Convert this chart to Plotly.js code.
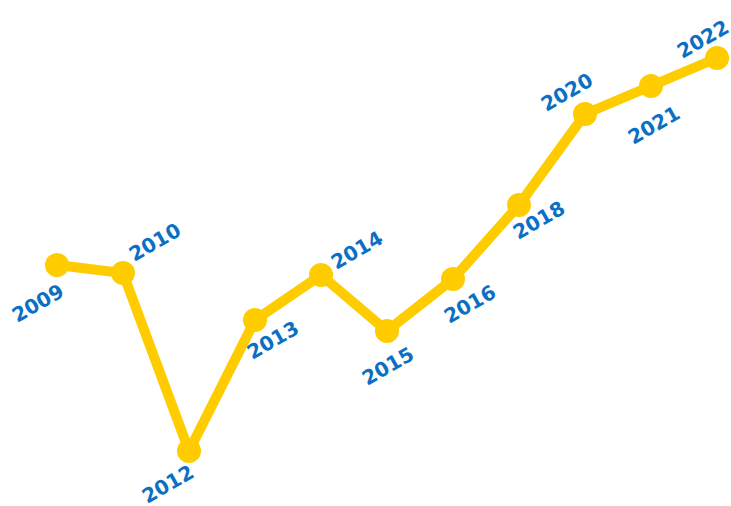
<!DOCTYPE html>
<html>
<head>
<meta charset="utf-8">
<script src="https://cdn.plot.ly/plotly-3.0.1.min.js"></script>
<style>html,body{margin:0;padding:0;background:#fff;}#chart{width:731px;height:506px;}</style>
</head>
<body>
<div id="chart"></div>
<script>
// Data
const years = ["2009","2010","2012","2013","2014","2015","2016","2018","2020","2021","2022"];
const values = [235, 227, 49, 180, 225, 169, 221, 295, 386, 414, 442];

// Label placement (styling only): pixel offsets from each point
const labelDx = [-19, 32, -21, 18, 36, 1, 17, 20, -18, 3, -14];
const labelDy = [38, -31, 33, 20, -25, 35, 25, 15, -22, 39, -19];

const trace = {
  x: years,
  y: values,
  type: "scatter",
  mode: "lines+markers",
  line: {color: "#FFCC00", width: 10},
  marker: {color: "#FFCC00", size: 24},
  hoverinfo: "skip"
};

const annotations = years.map((yr, i) => ({
  x: i, y: values[i], xref: "x", yref: "y",
  text: "<b>" + yr + "</b>", showarrow: false, textangle: -30,
  xanchor: "center", yanchor: "middle",
  xshift: labelDx[i], yshift: -labelDy[i],
  font: {family: "DejaVu Sans", size: 20, color: "#0B6FC4"}
}));

const layout = {
  width: 731, height: 506,
  margin: {l: 0, r: 0, t: 0, b: 0},
  paper_bgcolor: "#fff", plot_bgcolor: "#fff",
  showlegend: false,
  xaxis: {type: "category", range: [-0.8636, 10.212], showgrid: false, zeroline: false, showticklabels: false, showline: false, ticks: "", fixedrange: true},
  yaxis: {range: [-6, 500], showgrid: false, zeroline: false, showticklabels: false, showline: false, ticks: "", fixedrange: true},
  annotations: annotations
};

Plotly.newPlot("chart", [trace], layout, {displayModeBar: false});
</script>
</body>
</html>
